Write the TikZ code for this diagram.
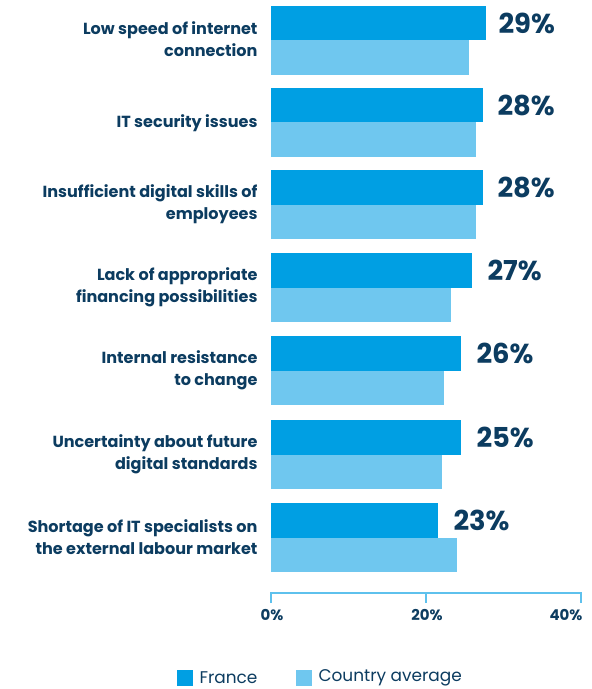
\documentclass[tikz,border=0pt]{standalone}
\usepackage{fontspec}
\setmainfont{Poppins}
\usepackage{tikz}
\definecolor{france}{HTML}{009FE3}
\definecolor{average}{HTML}{6FC7EF}
\definecolor{textblue}{HTML}{0C3C60}
\tikzset{%
    barlabel/.style={anchor=east, align=right, text=textblue, font=\fontsize{16.1}{22}\selectfont\bfseries},
    barvalue/.style={anchor=west, text=textblue, font=\fontsize{27.5}{30}\selectfont\bfseries},
    ticklabel/.style={anchor=north, text=textblue, font=\fontsize{15}{18}\selectfont\bfseries},
    legendtext/.style={anchor=west, text=textblue, font=\fontsize{17}{20}\selectfont}
}

\begin{document}
\begin{tikzpicture}[x=1bp,y=-1bp]
        \useasboundingbox (0,0) rectangle (592,689);

        \fill[france] (271,6) rectangle (486,40.5);
        \fill[average] (271,40.5) rectangle (469,75);
        \node[barlabel] (l1) at (261,39) {Low speed of internet\\connection};
        \node[barvalue] (v1) at (495,23) {29\%};

        \fill[france] (271,88) rectangle (483,122.5);
        \fill[average] (271,122.5) rectangle (476,157);
        \node[barlabel] (l2) at (261,123) {IT security issues};
        \node[barvalue] (v2) at (494,105) {28\%};

        \fill[france] (271,170) rectangle (483,204.5);
        \fill[average] (271,204.5) rectangle (476,239);
        \node[barlabel] (l3) at (261,204) {Insufficient digital skills of\\employees};
        \node[barvalue] (v3) at (494,187) {28\%};

        \fill[france] (271,253) rectangle (472,287.5);
        \fill[average] (271,287.5) rectangle (451,322);
        \node[barlabel] (l4) at (261,287) {Lack of appropriate\\financing possibilities};
        \node[barvalue] (v4) at (484,270) {27\%};

        \fill[france] (271,336) rectangle (461,370.5);
        \fill[average] (271,370.5) rectangle (444,405);
        \node[barlabel] (l5) at (261,370) {Internal resistance\\to change};
        \node[barvalue] (v5) at (473,353) {26\%};

        \fill[france] (271,420) rectangle (461,454.5);
        \fill[average] (271,454.5) rectangle (442,489);
        \node[barlabel] (l6) at (261,454) {Uncertainty about future\\digital standards};
        \node[barvalue] (v6) at (473,437) {25\%};

        \fill[france] (271,503) rectangle (438,537.5);
        \fill[average] (271,537.5) rectangle (457,572);
        \node[barlabel] (l7) at (261,537) {Shortage of IT specialists on\\the external labour market};
        \node[barvalue] (v7) at (450,520) {23\%};

        % axis
        \draw[color=average!85!france, line width=1.2bp] (271,603) -- (271,593) -- (581,593) -- (581,603) (426,593) -- (426,603);
        \node[ticklabel] (t0) at (272,606) {0\%};
        \node[ticklabel] (t20) at (427,606) {20\%};
        \node[ticklabel, anchor=north east] (t40) at (586,606) {40\%};

        % legend
        \fill[france] (177,670) rectangle (193,686);
        \node[legendtext] (lf) at (196,678) {France};
        \fill[average] (296,670) rectangle (312,686);
        \node[legendtext] (la) at (315,678) {Country average};
    \end{tikzpicture}
\end{document}
